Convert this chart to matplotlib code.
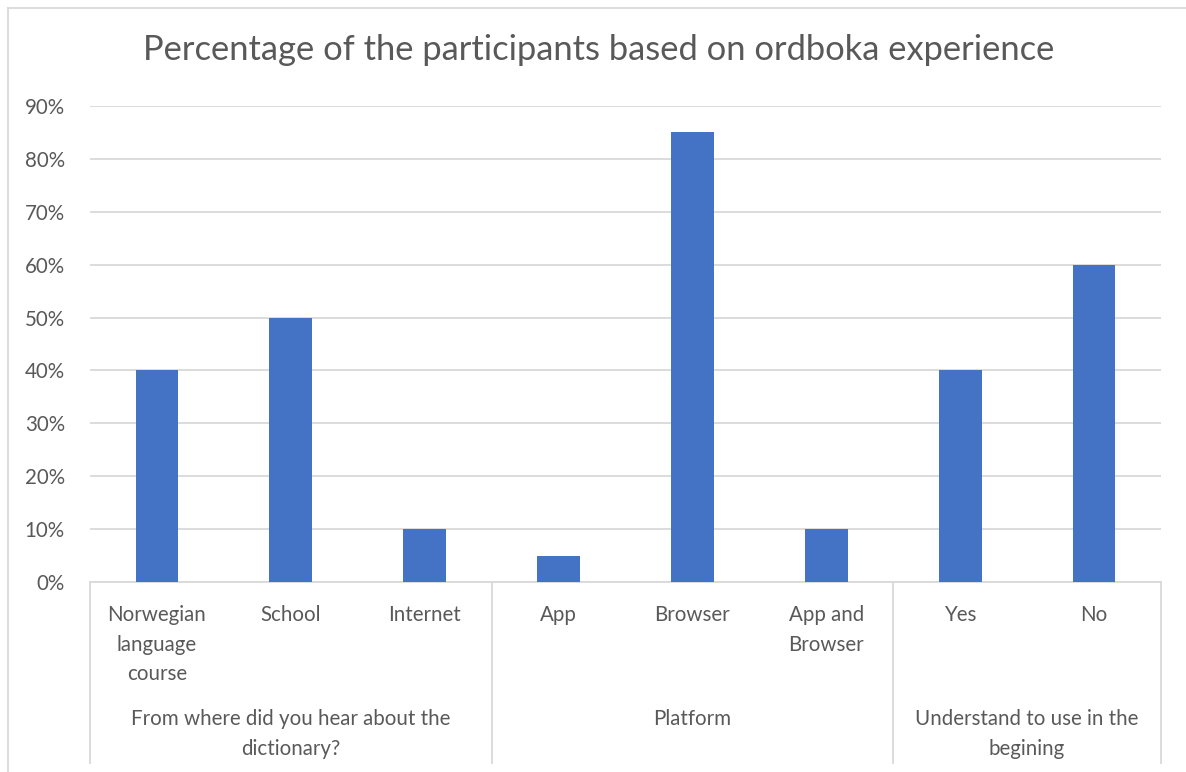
import matplotlib.pyplot as plt
from matplotlib.lines import Line2D

# chart data
categories = ['Norwegian\nlanguage\ncourse', 'School', 'Internet',
              'App', 'Browser', 'App and\nBrowser',
              'Yes', 'No']
values = [0.40, 0.50, 0.10, 0.05, 0.85, 0.10, 0.40, 0.60]
groups = ['From where did you hear about the\ndictionary?', 'Platform',
          'Understand to use in the\nbegining']
group_sizes = [3, 3, 2]
yticks = [0, 0.1, 0.2, 0.3, 0.4, 0.5, 0.6, 0.7, 0.8, 0.9]

plt.rcParams['font.family'] = ['Lato', 'DejaVu Sans']
text_col = '#595959'
grid_col = '#D9D9D9'
fs = 14.8

W, H = 1186, 772
fig = plt.figure(figsize=(W / 100, H / 100), dpi=100)

# axes placed in pixel coords
left, right, top, bottom = 90, 1161, 106, 582
ax = fig.add_axes([left / W, 1 - bottom / H, (right - left) / W, (bottom - top) / H])

x = list(range(len(categories)))
ax.bar(x, values, width=0.32, color='#4472C4', zorder=3)
ax.set_xlim(-0.5, len(categories) - 0.5)
ax.set_ylim(0, 0.9)
ax.set_yticks(yticks)
ax.set_yticklabels([f'{int(round(v * 100))}%' for v in yticks])
ax.tick_params(axis='y', length=0, pad=18, labelsize=fs, labelcolor=text_col)
ax.set_xticks([])
ax.grid(axis='y', color=grid_col, linewidth=1.3, zorder=0)
for s in ['top', 'right', 'left']:
    ax.spines[s].set_visible(False)
ax.spines['bottom'].set_color(grid_col)
ax.spines['bottom'].set_linewidth(1.3)

# category labels (level 1)
for i, c in enumerate(categories):
    ax.annotate(c, xy=(i, 0), xycoords=('data', 'axes fraction'),
                xytext=(0, -23), textcoords='offset pixels',
                ha='center', va='top', fontsize=fs, color=text_col,
                linespacing=1.6)

# group labels (level 2) and separators
start = 0
bounds = [-0.5]
for g, n in zip(groups, group_sizes):
    mid = start + (n - 1) / 2
    ax.annotate(g, xy=(mid, 0), xycoords=('data', 'axes fraction'),
                xytext=(0, -(709 - bottom)), textcoords='offset pixels',
                ha='center', va='top', fontsize=fs, color=text_col,
                linespacing=1.6)
    start += n
    bounds.append(start - 0.5)

sep_len = (763 - bottom) / (bottom - top)
for b in bounds:
    ax.add_line(Line2D([b, b], [0, -sep_len], transform=ax.get_xaxis_transform(),
                       color=grid_col, linewidth=1.3, clip_on=False))

fig.suptitle('Percentage of the participants based on ordboka experience',
             x=0.5 + 5.5 / W, y=1 - 50 / H, va='center', fontsize=24.8, color=text_col)

# chart border
fig.add_artist(Line2D([7.5 / W, 7.5 / W], [0, 1 - 7.5 / H], transform=fig.transFigure,
                      color=grid_col, linewidth=1.3))
fig.add_artist(Line2D([7.5 / W, 1], [1 - 7.5 / H, 1 - 7.5 / H], transform=fig.transFigure,
                      color=grid_col, linewidth=1.3))

fig.savefig('out.png', dpi=100)
